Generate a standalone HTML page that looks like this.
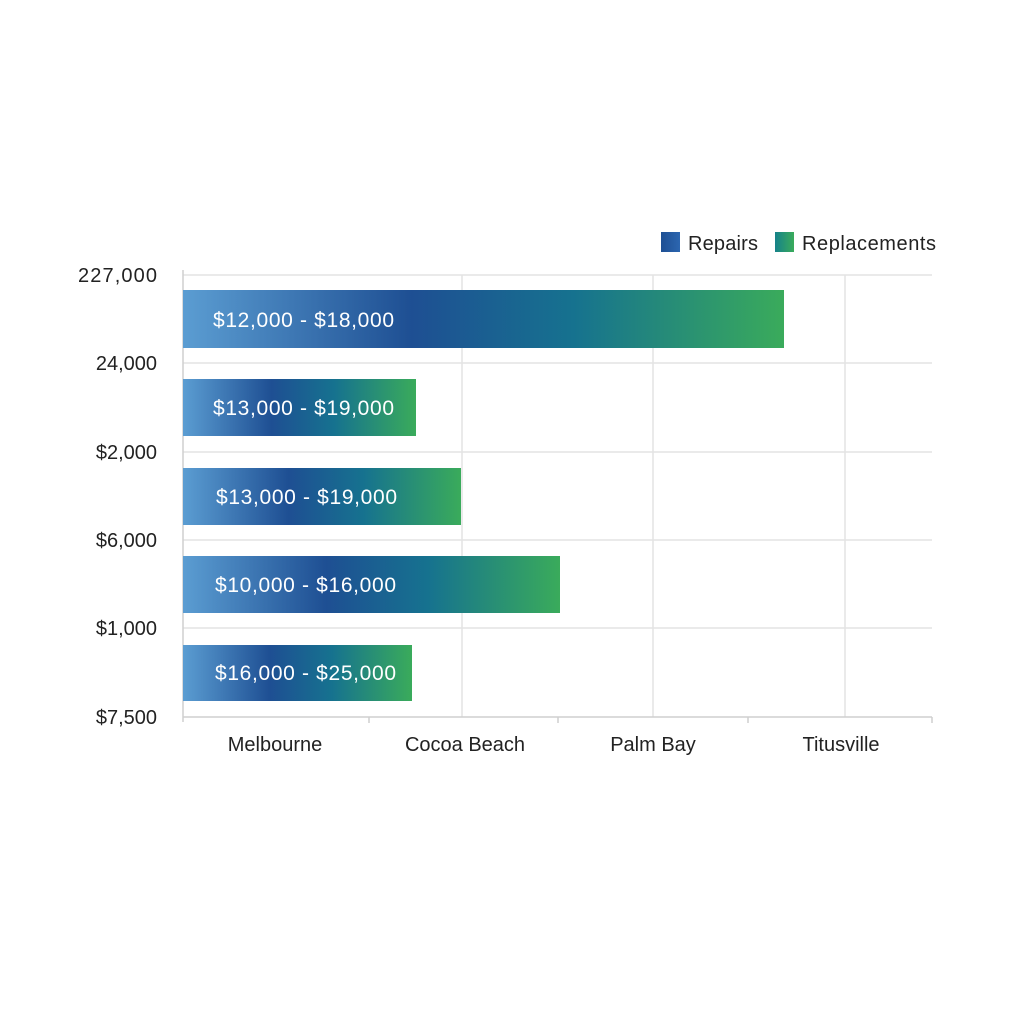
<!DOCTYPE html>
<html><head><style>
html,body{margin:0;padding:0;background:#fff;}
</style></head><body>
<svg width="1024" height="1024" xmlns="http://www.w3.org/2000/svg" font-family="'Liberation Sans', sans-serif">
<defs>
<linearGradient id="g" x1="0" y1="0" x2="1" y2="0">
<stop offset="0" stop-color="#5b9dd2"/>
<stop offset="0.38" stop-color="#1e4f93"/>
<stop offset="0.65" stop-color="#16728f"/>
<stop offset="1" stop-color="#3aab5b"/>
</linearGradient>
<linearGradient id="lb" x1="0" y1="0" x2="1" y2="0"><stop offset="0" stop-color="#1e4f93"/><stop offset="1" stop-color="#2c66b0"/></linearGradient>
<linearGradient id="lg" x1="0" y1="0" x2="1" y2="0"><stop offset="0" stop-color="#16828a"/><stop offset="1" stop-color="#3aab5b"/></linearGradient>
</defs>
<g stroke="#e3e3e3" stroke-width="1.5">
<line x1="183" y1="275" x2="932" y2="275"/>
<line x1="183" y1="363" x2="932" y2="363"/>
<line x1="183" y1="452" x2="932" y2="452"/>
<line x1="183" y1="540" x2="932" y2="540"/>
<line x1="183" y1="628" x2="932" y2="628"/>
<line x1="462" y1="275" x2="462" y2="717"/>
<line x1="653" y1="275" x2="653" y2="717"/>
<line x1="845" y1="275" x2="845" y2="717"/>
</g>
<g stroke="#cfcfcf" stroke-width="1.5">
<line x1="183" y1="270" x2="183" y2="722"/>
<line x1="183" y1="717" x2="932" y2="717"/>
<line x1="369" y1="717" x2="369" y2="723"/>
<line x1="558" y1="717" x2="558" y2="723"/>
<line x1="748" y1="717" x2="748" y2="723"/>
<line x1="932" y1="717" x2="932" y2="723"/>
</g>
<rect x="183" y="290" width="601" height="58" fill="url(#g)"/>
<rect x="183" y="379" width="233" height="57" fill="url(#g)"/>
<rect x="183" y="468" width="278" height="57" fill="url(#g)"/>
<rect x="183" y="556" width="377" height="57" fill="url(#g)"/>
<rect x="183" y="645" width="229" height="56" fill="url(#g)"/>
<g fill="#fff" font-size="21">
<text x="213" y="327" textLength="181">$12,000 - $18,000</text>
<text x="213" y="415" textLength="181">$13,000 - $19,000</text>
<text x="216" y="504" textLength="181">$13,000 - $19,000</text>
<text x="215" y="592" textLength="181">$10,000 - $16,000</text>
<text x="215" y="680" textLength="181">$16,000 - $25,000</text>
</g>
<g fill="#222" font-size="20" text-anchor="end">
<text x="157" y="282" textLength="79">227,000</text>
<text x="157" y="370">24,000</text>
<text x="157" y="459">$2,000</text>
<text x="157" y="547">$6,000</text>
<text x="157" y="635">$1,000</text>
<text x="157" y="724">$7,500</text>
</g>
<g fill="#222" font-size="20" text-anchor="middle">
<text x="275" y="751">Melbourne</text>
<text x="465" y="751">Cocoa Beach</text>
<text x="653" y="751">Palm Bay</text>
<text x="841" y="751">Titusville</text>
</g>
<rect x="661" y="232" width="19" height="20" fill="url(#lb)"/>
<text x="688" y="250" font-size="20" fill="#222" textLength="70">Repairs</text>
<rect x="775" y="232" width="19" height="20" fill="url(#lg)"/>
<text x="802" y="250" font-size="20" fill="#222" textLength="134">Replacements</text>
</svg>
</body></html>
